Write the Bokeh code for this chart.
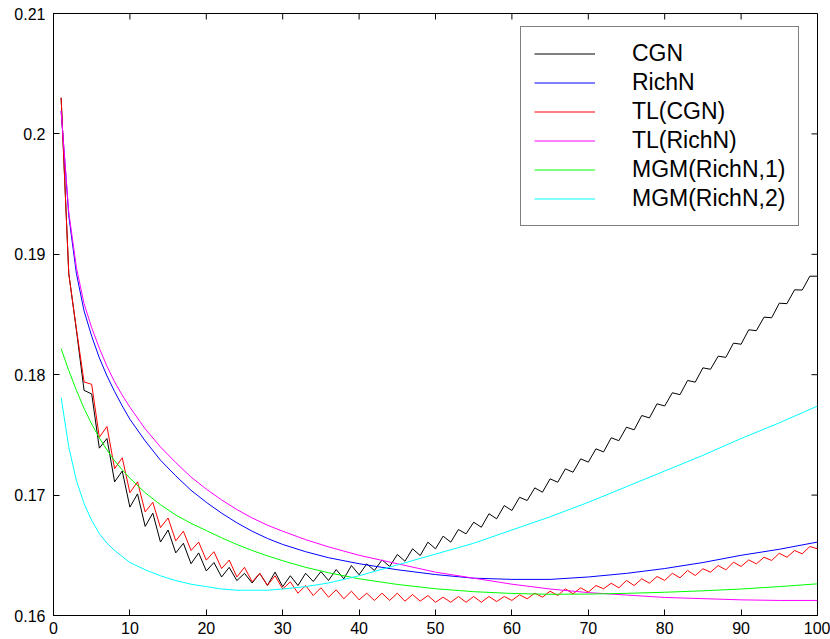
from bokeh.plotting import figure
from bokeh.models import Range1d, FixedTicker, Legend, LegendItem
from bokeh.embed import file_html
from bokeh.resources import INLINE

# ---------------- data ----------------
x_steps = list(range(1, 101))

cgn = [0.2030, 0.1884, 0.1837, 0.1787, 0.1784, 0.1739, 0.1747, 0.1711, 0.1720, 0.1690,
       0.1701, 0.1674, 0.1685, 0.1661, 0.1671, 0.1652, 0.1660, 0.1643, 0.1652, 0.1637,
       0.1644, 0.1632, 0.1640, 0.1629, 0.1635, 0.1627, 0.1635, 0.1625, 0.1636, 0.1624,
       0.1633, 0.16249, 0.16351, 0.16282, 0.16365, 0.16291, 0.16382, 0.16305, 0.16415, 0.16338,
       0.16429, 0.16374, 0.16462, 0.16407, 0.16507, 0.16451, 0.16554, 0.16498, 0.16609, 0.16554,
       0.16659, 0.16609, 0.16714, 0.16678, 0.16775, 0.16733, 0.16845, 0.16803, 0.16913, 0.16872,
       0.16982, 0.16955, 0.17060, 0.17024, 0.17135, 0.17107, 0.17218, 0.17190, 0.17301, 0.17274,
       0.17384, 0.17359, 0.17476, 0.17452, 0.17564, 0.17542, 0.17661, 0.17641, 0.17758, 0.17740,
       0.17850, 0.17834, 0.17952, 0.17938, 0.18057, 0.18045, 0.18154, 0.18144, 0.18262, 0.18253,
       0.18373, 0.18366, 0.18478, 0.18473, 0.18594, 0.18590, 0.18705, 0.18703, 0.18818, 0.18818]

tl_cgn = [0.2030, 0.1884, 0.1838, 0.1794, 0.1792, 0.1748, 0.1757, 0.1722, 0.1731, 0.1702,
          0.1711, 0.1686, 0.1694, 0.1673, 0.1681, 0.1662, 0.1670, 0.1654, 0.1661, 0.1646,
          0.1653, 0.1639, 0.1646, 0.1632, 0.1640, 0.1628, 0.1635, 0.1625, 0.1633, 0.1622,
          0.1628, 0.16185, 0.16249, 0.16166, 0.16230, 0.16152, 0.16213, 0.16139, 0.16202, 0.16130,
          0.16185, 0.16125, 0.16185, 0.16125, 0.16185, 0.16119, 0.16174, 0.16119, 0.16166, 0.16110,
          0.16152, 0.16110, 0.16158, 0.16110, 0.16158, 0.16110, 0.16158, 0.16116, 0.16158, 0.16125,
          0.16172, 0.16139, 0.16185, 0.16152, 0.16202, 0.16166, 0.16222, 0.16180, 0.16230, 0.16194,
          0.16249, 0.16222, 0.16268, 0.16230, 0.16291, 0.16249, 0.16305, 0.16268, 0.16324, 0.16291,
          0.16351, 0.16313, 0.16374, 0.16332, 0.16388, 0.16360, 0.16415, 0.16379, 0.16443, 0.16407,
          0.16462, 0.16429, 0.16484, 0.16457, 0.16517, 0.16484, 0.16540, 0.16512, 0.16573, 0.16554]

x_smooth = [1, 2, 3, 4, 5, 6, 7, 8, 9, 10, 12, 14, 16, 18, 20, 22, 24, 26, 28, 30,
            33, 36, 40, 45, 50, 55, 60, 65, 70, 75, 80, 85, 90, 95, 100]

rich_n = [0.2019, 0.1932, 0.1884, 0.1853, 0.1832, 0.1814, 0.1799, 0.1786, 0.1774, 0.1763,
          0.1745, 0.1729, 0.1716, 0.1704, 0.1694, 0.1685, 0.1677, 0.1670, 0.1664, 0.1659,
          0.1653, 0.1648, 0.1643, 0.1638, 0.1634, 0.1631, 0.1630, 0.1630, 0.1632, 0.1635,
          0.1639, 0.1644, 0.1650, 0.1655, 0.1661]

tl_rich_n = [0.2019, 0.1935, 0.1889, 0.1859, 0.1839, 0.1822, 0.1807, 0.1794, 0.1783, 0.1773,
             0.1755, 0.1740, 0.1727, 0.1715, 0.1705, 0.1696, 0.1688, 0.1681, 0.1675, 0.1670,
             0.1663, 0.1657, 0.1650, 0.1643, 0.1636, 0.1631, 0.1626, 0.1622, 0.1619, 0.1617,
             0.1615, 0.1614, 0.1613, 0.16125, 0.16125]

mgm_1 = [0.18217, 0.18035, 0.17870, 0.17720, 0.17590, 0.17475, 0.17375, 0.17285, 0.17210, 0.17140,
         0.17020, 0.16920, 0.16835, 0.16765, 0.16706, 0.16645, 0.16590, 0.16540, 0.16495, 0.16455,
         0.16400, 0.16355, 0.16305, 0.16258, 0.16222, 0.16198, 0.16183, 0.16176, 0.16178, 0.16184,
         0.16193, 0.16205, 0.16220, 0.16240, 0.16263]

mgm_2 = [0.1781, 0.1740, 0.1712, 0.1693, 0.1679, 0.1668, 0.1660, 0.1654, 0.1649, 0.1644,
         0.1638, 0.1633, 0.1629, 0.1626, 0.1624, 0.1622, 0.1621, 0.1621, 0.1621, 0.1622,
         0.1624, 0.1627, 0.1633, 0.1642, 0.1651, 0.1660, 0.1671, 0.1682, 0.1694, 0.1707,
         0.1720, 0.1733, 0.1747, 0.1760, 0.1774]

series_names = ["CGN", "RichN", "TL(CGN)", "TL(RichN)", "MGM(RichN,1)", "MGM(RichN,2)"]
series_colors = ["#000000", "#0000ff", "#ff0000", "#ff00ff", "#00ff00", "#00ffff"]

x_ticks = [0, 10, 20, 30, 40, 50, 60, 70, 80, 90, 100]
y_ticks = [0.16, 0.17, 0.18, 0.19, 0.2, 0.21]
y_tick_labels = ["0.16", "0.17", "0.18", "0.19", "0.2", "0.21"]

# ---------------- figure ----------------
FONT = "Liberation Sans"
X0, X1, Y0, Y1 = 0, 100, 0.16, 0.21
FRAME_W, FRAME_H = 764, 602
TICK_PX = 6

p = figure(width=830, height=639, output_backend="svg", toolbar_location=None,
           x_range=Range1d(X0, X1), y_range=Range1d(Y0, Y1),
           min_border_left=53, min_border_right=13, min_border_top=13, min_border_bottom=24)
p.background_fill_color = "white"
p.border_fill_color = "white"
p.outline_line_color = "black"
p.outline_line_width = 1
p.grid.visible = False

for ax in (p.xaxis[0], p.yaxis[0]):
    ax.major_tick_in = TICK_PX
    ax.major_tick_out = 0
    ax.minor_tick_line_color = None
    ax.axis_line_color = "black"
    ax.major_tick_line_color = "black"
    ax.major_label_text_font = FONT
    ax.major_label_text_font_size = "16px"
    ax.major_label_text_color = "black"

p.xaxis.ticker = FixedTicker(ticks=x_ticks)
p.yaxis.ticker = FixedTicker(ticks=y_ticks)
p.yaxis.major_label_overrides = {t: s for t, s in zip(y_ticks, y_tick_labels)}
p.xaxis.major_label_standoff = 6
p.yaxis.major_label_standoff = 8

# tick marks on the top and right edges of the box (no labels there)
dy = (Y1 - Y0) / FRAME_H * TICK_PX
dx = (X1 - X0) / FRAME_W * TICK_PX
p.segment(x0=x_ticks, y0=[Y1] * len(x_ticks), x1=x_ticks, y1=[Y1 - dy] * len(x_ticks),
          line_color="black", line_width=1)
p.segment(x0=[X1] * len(y_ticks), y0=y_ticks, x1=[X1 - dx] * len(y_ticks), y1=y_ticks,
          line_color="black", line_width=1)

ys = [cgn, rich_n, tl_cgn, tl_rich_n, mgm_1, mgm_2]
xs = [x_steps, x_smooth, x_steps, x_smooth, x_smooth, x_smooth]
items = []
for name, color, xv, yv in zip(series_names, series_colors, xs, ys):
    r = p.line(xv, yv, line_color=color, line_width=1)
    items.append(LegendItem(label=name, renderers=[r]))

legend = Legend(items=items, location=(467, 389))
legend.border_line_color = "black"
legend.border_line_width = 1
legend.background_fill_color = "white"
legend.background_fill_alpha = 1
legend.padding = 13
legend.spacing = 2
legend.margin = 0
legend.glyph_width = 61
legend.glyph_height = 27
legend.label_height = 27
legend.label_standoff = 37
legend.label_text_font = FONT
legend.label_text_font_size = "23px"
legend.label_text_color = "black"
p.add_layout(legend)

open("out.html", "w").write(file_html(p, INLINE))
